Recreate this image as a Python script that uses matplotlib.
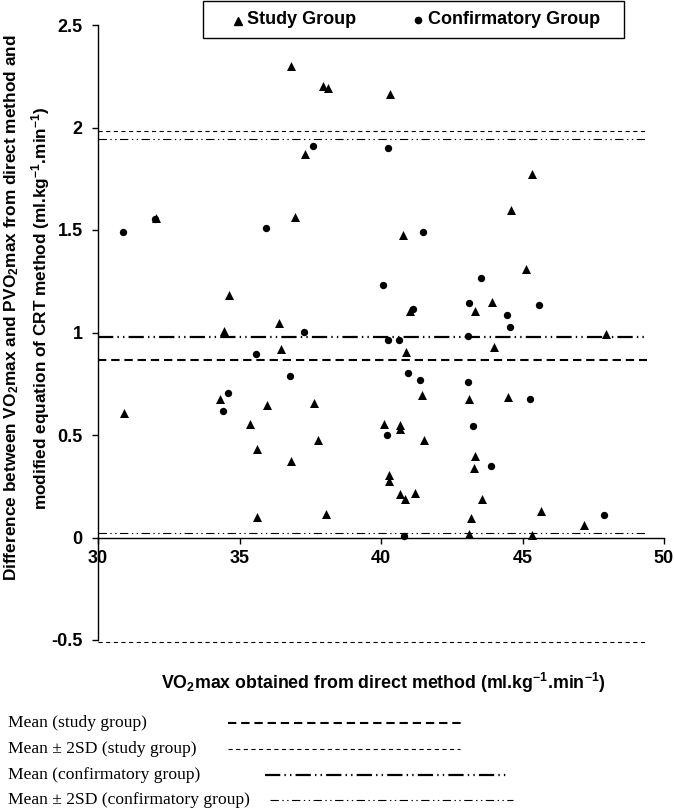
import matplotlib
matplotlib.use('Agg')
import matplotlib.pyplot as plt
from matplotlib.lines import Line2D
from matplotlib.patches import Rectangle

# ---------------- data ----------------
study_x = [32.05, 36.82, 37.95, 38.11, 37.30, 36.95, 34.63, 40.31, 45.32, 44.60,
           40.79, 45.12, 43.92, 43.32, 41.02, 47.94, 43.99, 40.87, 41.44, 43.12,
           44.49, 40.11, 40.67, 40.67, 41.52, 43.32, 43.29, 40.28, 40.28, 40.67,
           40.85, 41.20, 43.57, 45.64, 43.17, 47.18, 43.12, 45.32, 30.93, 34.46,
           36.38, 36.47, 34.30, 35.98, 37.63, 35.38, 35.62, 37.78, 36.83, 35.62,
           38.06]
study_y = [1.560, 2.300, 2.204, 2.193, 1.869, 1.564, 1.181, 2.164, 1.771, 1.599,
           1.478, 1.309, 1.150, 1.103, 1.105, 0.991, 0.928, 0.907, 0.693, 0.678,
           0.683, 0.553, 0.548, 0.529, 0.475, 0.397, 0.341, 0.305, 0.274, 0.214,
           0.190, 0.217, 0.190, 0.130, 0.097, 0.062, 0.019, 0.010, 0.608, 1.009,
           1.046, 0.920, 0.676, 0.646, 0.655, 0.553, 0.433, 0.475, 0.371, 0.102,
           0.113]
conf_x = [30.89, 32.00, 37.58, 35.95, 40.24, 41.47, 43.52, 40.07, 43.12, 45.60,
          44.44, 41.14, 44.57, 43.08, 40.26, 40.64, 40.94, 41.39, 43.07, 45.27,
          40.22, 43.24, 43.89, 47.89, 40.82, 37.27, 35.58, 36.78, 34.58, 34.42]
conf_y = [1.492, 1.555, 1.911, 1.512, 1.901, 1.492, 1.264, 1.233, 1.145, 1.135,
          1.084, 1.113, 1.027, 0.984, 0.965, 0.965, 0.803, 0.767, 0.758, 0.675,
          0.498, 0.545, 0.349, 0.109, 0.005, 1.004, 0.897, 0.787, 0.704, 0.616]

mean_study = 0.865
sd2_study = [1.982, -0.51]
mean_conf = 0.977
sd2_conf = [1.942, 0.024]
line_x = [30.0, 49.4]

x_ticks = [30, 35, 40, 45, 50]
y_ticks = [-0.5, 0, 0.5, 1, 1.5, 2, 2.5]
y_tick_labels = ['-0.5', '0', '0.5', '1', '1.5', '2', '2.5']

legend_labels = ['Study Group', 'Confirmatory Group']
key_labels = ['Mean (study group)', 'Mean \u00b1 2SD (study group)',
              'Mean (confirmatory group)', 'Mean \u00b1 2SD (confirmatory group)']

# ---------------- style ----------------
plt.rcParams['font.family'] = ['Liberation Sans', 'DejaVu Sans']
plt.rcParams['lines.scale_dashes'] = False
plt.rcParams['axes.unicode_minus'] = False
plt.rcParams['mathtext.fontset'] = 'custom'
plt.rcParams['mathtext.rm'] = 'Liberation Sans:bold'
plt.rcParams['mathtext.it'] = 'Liberation Sans:bold'
plt.rcParams['mathtext.bf'] = 'Liberation Sans:bold'

W, H = 674, 811
fig = plt.figure(figsize=(W / 100, H / 100), dpi=100)

def fx(px):
    return px / W

def fy(py):
    return 1 - py / H

ax = fig.add_axes([fx(98), fy(640), (664 - 98) / W, (640 - 25) / H])
ax.set_xlim(30, 50)
ax.set_ylim(-0.5, 2.5)
ax.spines['top'].set_visible(False)
ax.spines['right'].set_visible(False)
ax.spines['bottom'].set_position(('data', 0))
for s in ('left', 'bottom'):
    ax.spines[s].set_linewidth(1.0)
ax.set_xticks(x_ticks)
ax.set_yticks(y_ticks, y_tick_labels)
ax.tick_params(axis='both', direction='out', length=4, width=1, labelsize=13)
ax.tick_params(axis='y', pad=7)
ax.tick_params(axis='x', pad=5)
for lbl in ax.get_xticklabels() + ax.get_yticklabels():
    lbl.set_fontweight('bold')

# reference lines
style_mean_study = dict(color='black', lw=1.5, dashes=(6, 3.5))
style_sd_study = dict(color='black', lw=0.8, dashes=(3, 2.5))
style_mean_conf = dict(color='black', lw=1.6, dashes=(11, 3, 1, 3, 1, 3))
style_sd_conf = dict(color='black', lw=0.8, dashes=(6, 2.5, 1, 2.5, 1, 2.5))

ax.plot(line_x, [mean_study] * 2, **style_mean_study)
for v in sd2_study:
    ax.plot(line_x, [v] * 2, clip_on=False, **style_sd_study)
ax.plot(line_x, [mean_conf] * 2, **style_mean_conf)
for v in sd2_conf:
    ax.plot(line_x, [v] * 2, **style_sd_conf)

ax.scatter(study_x, study_y, marker='^', s=42, color='black', zorder=3, linewidths=0)
ax.scatter(conf_x, conf_y, marker='o', s=28, color='black', zorder=3, linewidths=0)

# top legend (drawn as a boxed key)
fig.add_artist(Rectangle((fx(203), fy(38)), (624 - 203) / W, 37 / H, transform=fig.transFigure,
                         facecolor='white', edgecolor='black', lw=1.0, clip_on=False))
fig.add_artist(Line2D([fx(238)], [fy(21)], marker='^', ls='none', color='black', markersize=6,
                      transform=fig.transFigure))
fig.add_artist(Line2D([fx(418)], [fy(20)], marker='o', ls='none', color='black', markersize=4.5,
                      transform=fig.transFigure))
fig.text(fx(247), fy(20), legend_labels[0], ha='left', va='center', fontsize=13, fontweight='bold')
fig.text(fx(428), fy(20), legend_labels[1], ha='left', va='center', fontsize=13, fontweight='bold')

# axis labels
fig.text(fx(383), fy(683), r'VO$_2$max obtained from direct method (ml.kg$^{-1}$.min$^{-1}$)',
         ha='center', va='center', fontsize=12.8, fontweight='bold')
fig.text(fx(27), fy(308),
         'Difference between VO$_2$max and PVO$_2$max from direct method and\n'
         'modified equation of CRT method (ml.kg$^{-1}$.min$^{-1}$)',
         ha='center', va='center', rotation=90, fontsize=12.4, fontweight='bold',
         multialignment='center', linespacing=1.45)

# bottom key
key_y = [723, 749, 775, 800]
key_x0 = [228, 228, 265, 270]
key_x1 = [462, 460, 508, 513]
key_styles = [style_mean_study, style_sd_study, style_mean_conf, style_sd_conf]
for lab, yy, x0, x1, st in zip(key_labels, key_y, key_x0, key_x1, key_styles):
    fig.text(fx(8), fy(yy), lab, family='Liberation Serif', fontsize=12.6, va='center', ha='left')
    fig.add_artist(Line2D([fx(x0), fx(x1)], [fy(yy), fy(yy)], transform=fig.transFigure, **st))

fig.savefig('out.png', dpi=100)
